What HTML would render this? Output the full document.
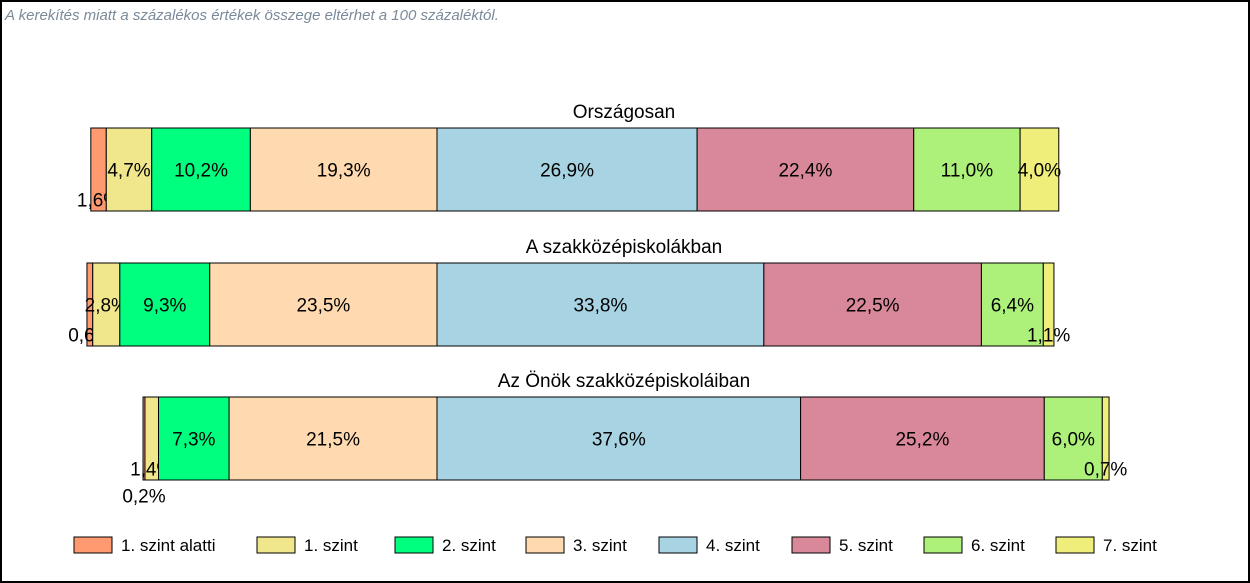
<!DOCTYPE html>
<html><head><meta charset="utf-8"><style>
body{margin:0;background:#fff;font-family:"Liberation Sans",sans-serif}
#wrap{position:relative;width:1246px;height:579px;border:2px solid #000;overflow:hidden}
</style></head><body>
<div id="wrap">
<svg id="c" width="1246" height="579"></svg>
</div>
<script>
const categories=["Országosan","A szakközépiskolákban","Az Önök szakközépiskoláiban"];
const levels=["1. szint alatti","1. szint","2. szint","3. szint","4. szint","5. szint","6. szint","7. szint"];
const row0=[1.6,4.7,10.2,19.3,26.9,22.4,11.0,4.0];
const row1=[0.6,2.8,9.3,23.5,33.8,22.5,6.4,1.1];
const row2=[0.2,1.4,7.3,21.5,37.6,25.2,6.0,0.7];
const rows=[row0,row1,row2];
const colors=["#FF9A70","#F0E68C","#00FF7F","#FFDAB0","#A8D3E3","#D98899","#ADF07A","#F0EE7A"];
const ns="http://www.w3.org/2000/svg";
const svg=document.getElementById('c');
function mk(t,a){const e=document.createElementNS(ns,t);for(const k in a)e.setAttribute(k,a[k]);svg.appendChild(e);return e;}
const center=435, pxPer=9.67;
const x=v=>center+v*pxPer;
const rowTop=[126,261,395], barH=83;
let t=mk('text',{x:3,y:18,'font-size':15,'font-style':'italic',fill:'#7a8a9a'});
t.textContent="A kerekítés miatt a  százalékos értékek összege eltérhet a 100 százaléktól.";


rows.forEach((r,ri)=>{
  const y0=rowTop[ri];
  let tt=mk('text',{x:622,y:y0-10,'font-size':19,'text-anchor':'middle'});
  tt.textContent=categories[ri];
  
  
  let left=-(r[0]+r[1]+r[2]+r[3]);
  let cum=left, prevNarrow=0;
  r.forEach((v,i)=>{
    const xa=x(cum), xb=x(cum+v);
    const rect=mk('rect',{x:xa,y:y0,width:Math.max(xb-xa,0.5),height:barH,fill:colors[i],stroke:'#000','stroke-width':1});
    
    
    const w=xb-xa;
    let dy=0;
    if(w<16){prevNarrow=prevNarrow?prevNarrow+1:1;dy=(prevNarrow===1?30:57);if(i<4&&r.slice(0,4).filter(q=>q*pxPer<16).length===2){dy=prevNarrow===1?57:30;}}
    else prevNarrow=0;
    const lb=mk('text',{x:(xa+xb)/2,y:y0+barH/2+7+dy,'font-size':19,'text-anchor':'middle'});
    lb.textContent=v.toFixed(1).replace('.',',')+'%';
    
    
    cum+=v;
  });
});
const legX=[72,255,393,524,657,790,922,1054];
levels.forEach((l,i)=>{
  const r=mk('rect',{x:legX[i],y:535,width:38,height:16,fill:colors[i],stroke:'#000','stroke-width':1});
  
  
  const tx=mk('text',{x:legX[i]+47,y:549,'font-size':17});
  tx.textContent=l;
  
  
});
</script>
</body></html>
